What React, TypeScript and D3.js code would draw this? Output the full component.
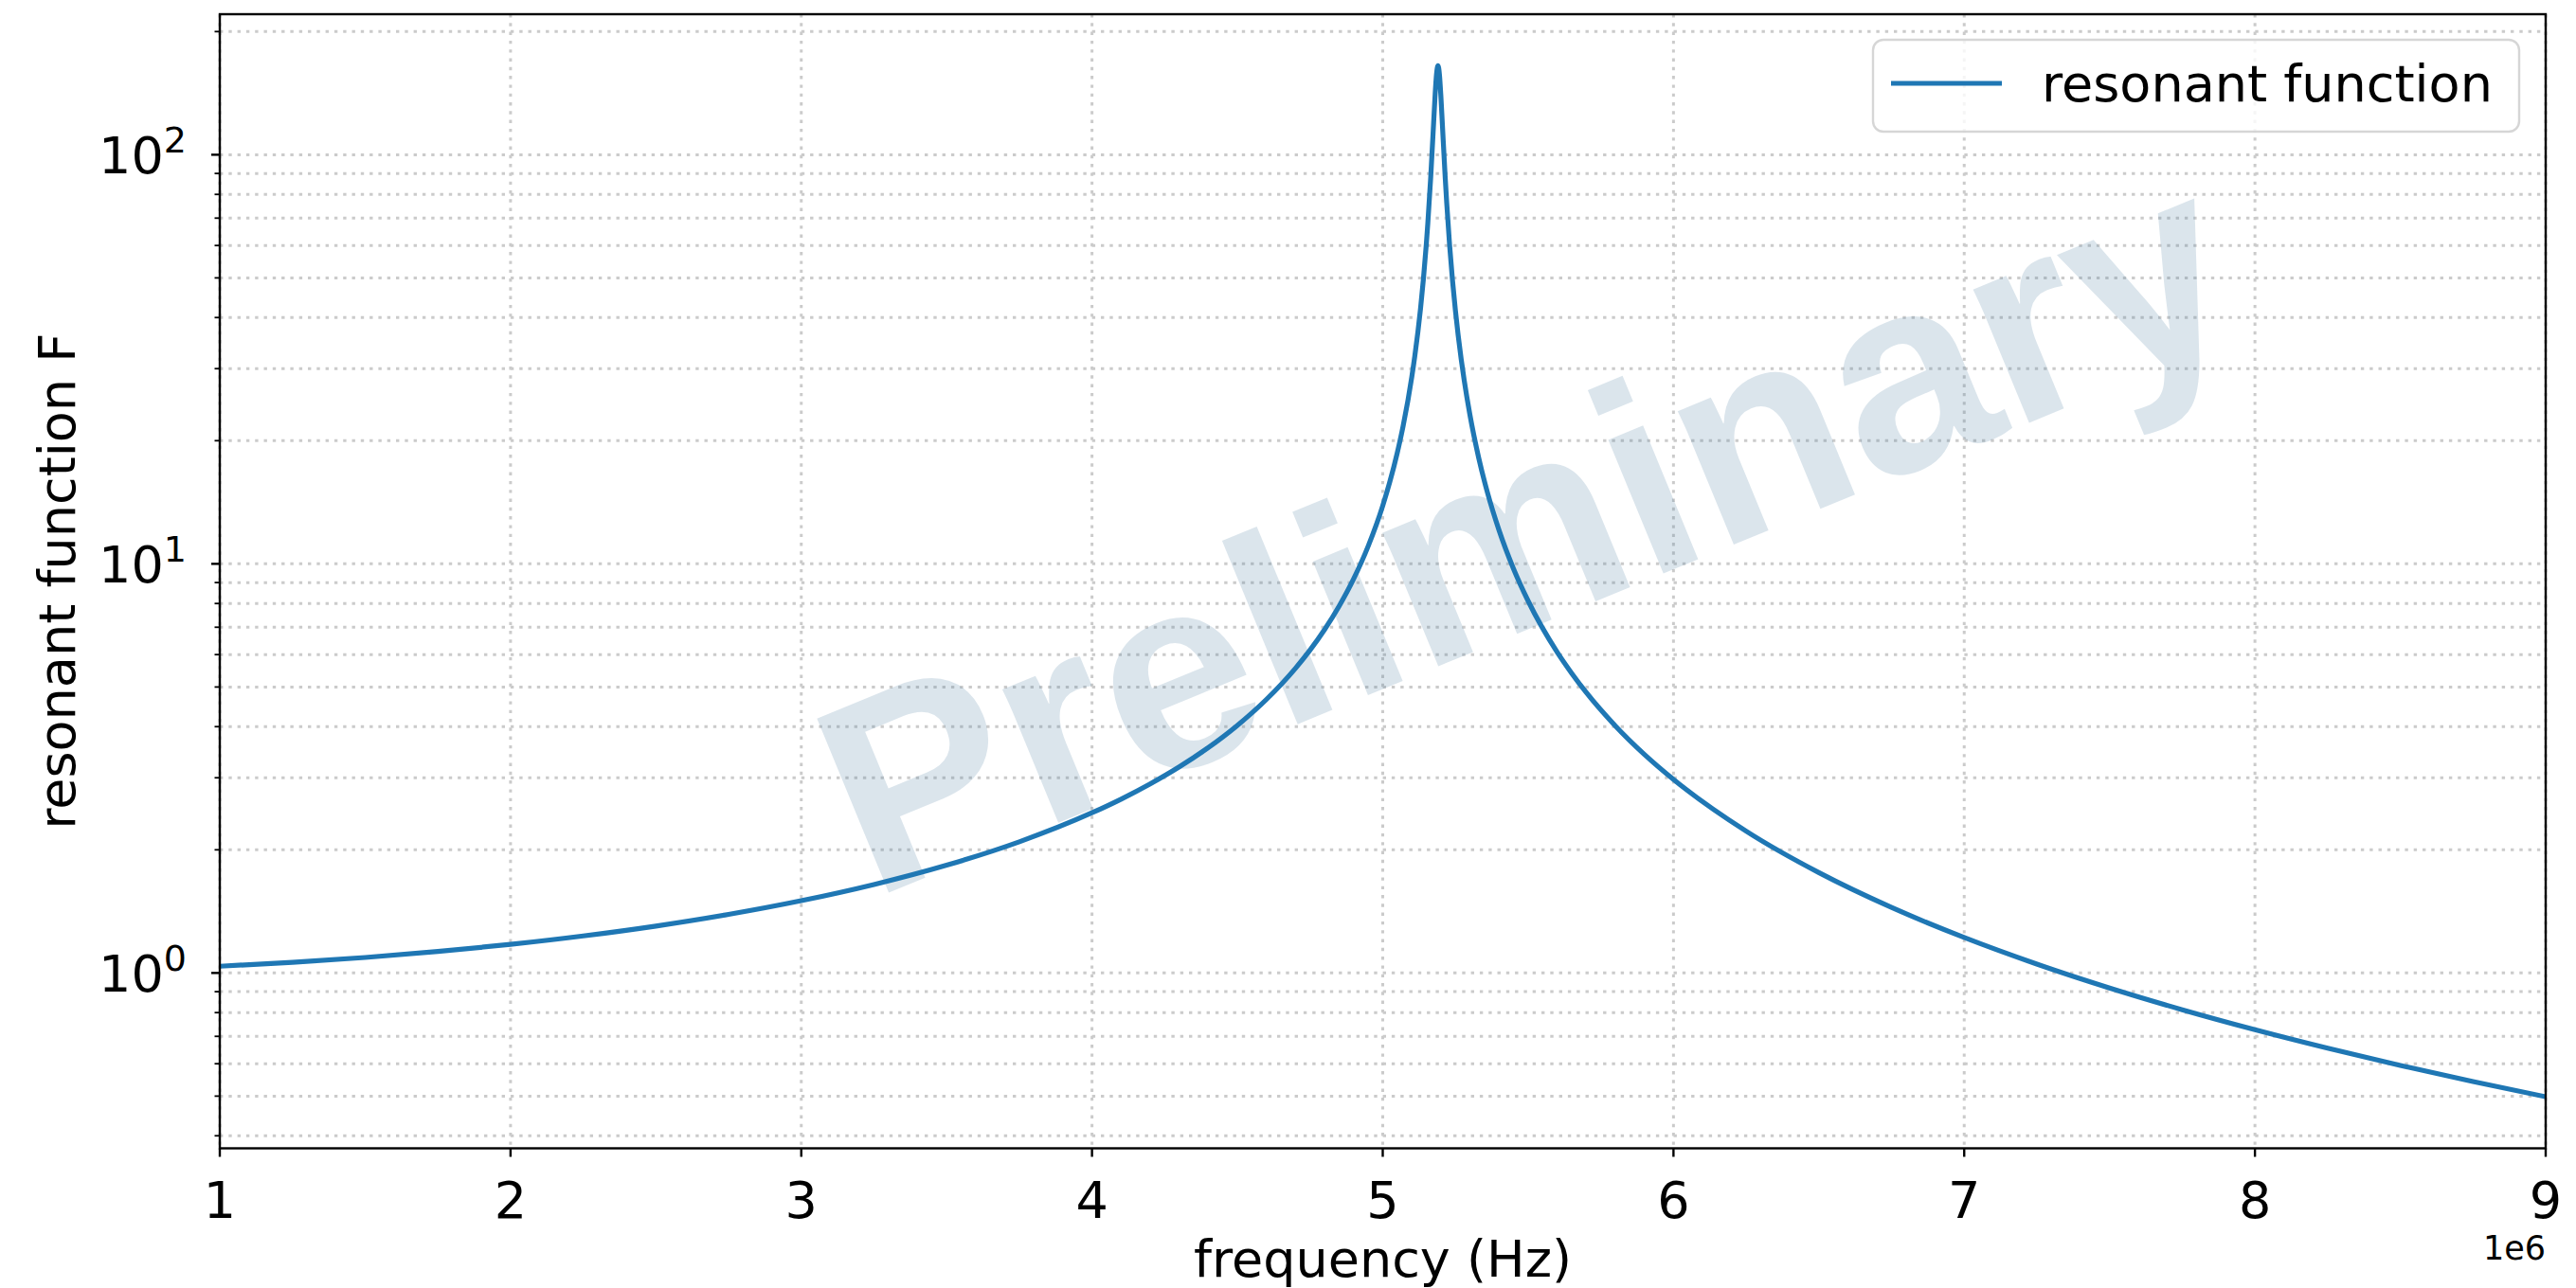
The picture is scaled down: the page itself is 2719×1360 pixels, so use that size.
import React from "react";
import * as d3 from "d3";

// Frequency samples (Hz) and the resonant function F at each one
const freqHz = [
  1.0e6, 1.25e6, 1.5e6, 1.75e6, 2.0e6, 2.25e6, 2.5e6, 2.75e6, 3.0e6, 3.25e6,
  3.5e6, 3.75e6, 4.0e6, 4.1e6, 4.2e6, 4.3e6, 4.4e6, 4.5e6, 4.6e6, 4.7e6,
  4.75e6, 4.8e6, 4.85e6, 4.9e6, 4.95e6, 5.0e6, 5.05e6, 5.07e6, 5.1e6, 5.11e6,
  5.13e6, 5.14e6, 5.15e6, 5.155e6, 5.165e6, 5.175e6, 5.18e6, 5.185e6, 5.19e6,
  5.195e6, 5.2e6, 5.205e6, 5.215e6, 5.22e6, 5.23e6, 5.24e6, 5.25e6, 5.27e6,
  5.28e6, 5.3e6, 5.33e6, 5.36e6, 5.4e6, 5.45e6, 5.5e6, 5.6e6, 5.65e6, 5.7e6,
  5.8e6, 5.9e6, 6.0e6, 6.25e6, 6.5e6, 6.75e6, 7.0e6, 7.25e6, 7.5e6, 7.75e6,
  8.0e6, 8.25e6, 8.5e6, 8.75e6, 9.0e6,
];
const response = [
  1.0386, 1.0616, 1.0911, 1.1283, 1.1744, 1.2315, 1.3021, 1.3904, 1.5018, 1.6451,
  1.8341, 2.0923, 2.463, 2.660, 2.898, 3.189, 3.555, 4.029, 4.663, 5.558,
  6.155, 6.909, 7.883, 9.192, 11.05, 13.87, 18.68, 21.70, 28.66, 32.09,
  42.10, 49.77, 60.62, 67.89, 88.07, 119.6, 139.5, 157.4, 165.0,
  157.1, 139.0, 119.1, 87.59, 76.35, 60.11, 49.25, 41.58, 31.58,
  28.15, 23.10, 18.17, 14.95, 12.08, 9.718, 8.117, 6.084, 5.402, 4.848,
  4.018, 3.421, 2.972, 2.221, 1.759, 1.446, 1.2208, 1.0511, 0.9189, 0.8131,
  0.7268, 0.6550, 0.5944, 0.5428, 0.4982,
];

const xTickValues = [1e6, 2e6, 3e6, 4e6, 5e6, 6e6, 7e6, 8e6, 9e6];
const seriesName = "resonant function";
const xLabel = "frequency (Hz)";
const yLabel = "resonant function F";
const offsetLabel = "1e6";
const watermark = "Preliminary";

const W = 2719;
const H = 1360;
const M = { left: 232, right: 2687, top: 15, bottom: 1212.5 };
const FONT = "'DejaVu Sans', sans-serif";
const LINE_COLOR = "#1f77b4";
const LINE_WIDTH = 5.2;
const GRID = { stroke: "#cbcbcb", strokeWidth: 3, strokeDasharray: "3.4 5.9" };

export default function App() {
  const x = d3.scaleLinear().domain([1e6, 9e6]).range([M.left, M.right]);

  // log axis with 5% padding (in decades) around the data range
  const lo = Math.log10(d3.min(response) as number);
  const hi = Math.log10(d3.max(response) as number);
  const pad = 0.05 * (hi - lo);
  const y = d3
    .scaleLog()
    .domain([Math.pow(10, lo - pad), Math.pow(10, hi + pad)])
    .range([M.bottom, M.top]);

  const yTicks = y.ticks();
  const isMajor = (v: number) => Math.abs(Math.log10(v) - Math.round(Math.log10(v))) < 1e-9;

  const pts = freqHz.map((f, i) => [f, response[i]] as [number, number]);
  const line = d3
    .line<[number, number]>()
    .x((d) => x(d[0]))
    .y((d) => y(d[1]))
    .curve(d3.curveMonotoneX);

  const wmX = 1648;
  const wmY = 650;

  return (
    <svg
      width={W}
      height={H}
      style={{ position: "absolute", left: 0, top: 0, background: "#fff" }}
      fontFamily={FONT}
    >
      <rect x={0} y={0} width={W} height={H} fill="#fff" />
      <defs>
        <clipPath id="plotArea">
          <rect x={M.left} y={M.top} width={M.right - M.left} height={M.bottom - M.top} />
        </clipPath>
      </defs>

      {/* grid */}
      <g>
        {yTicks.map((v) => (
          <line key={"gy" + v} x1={M.left} x2={M.right} y1={y(v)} y2={y(v)} {...GRID} />
        ))}
        {xTickValues.map((v) => (
          <line key={"gx" + v} x1={x(v)} x2={x(v)} y1={M.top} y2={M.bottom} {...GRID} />
        ))}
      </g>

      {/* watermark */}
      <text
        x={wmX}
        y={wmY}
        transform={`rotate(-22.4 ${wmX} ${wmY})`}
        textAnchor="middle"
        fontFamily="'Liberation Sans', Arial, sans-serif"
        fontWeight="bold"
        fontSize={289}
        fill="rgb(75,125,160)"
        fillOpacity={0.2}
      >
        {watermark}
      </text>

      {/* series */}
      <path
        d={line(pts) || ""}
        fill="none"
        stroke={LINE_COLOR}
        strokeWidth={LINE_WIDTH}
        strokeLinejoin="round"
        strokeLinecap="round"
        clipPath="url(#plotArea)"
      />

      {/* frame */}
      <rect
        x={M.left}
        y={M.top}
        width={M.right - M.left}
        height={M.bottom - M.top}
        fill="none"
        stroke="#000"
        strokeWidth={2.4}
      />

      {/* y ticks */}
      {yTicks.map((v) => (
        <line
          key={"ty" + v}
          x1={M.left}
          x2={M.left - (isMajor(v) ? 9 : 5.5)}
          y1={y(v)}
          y2={y(v)}
          stroke="#000"
          strokeWidth={isMajor(v) ? 2.4 : 1.8}
        />
      ))}
      {yTicks.filter(isMajor).map((v) => (
        <text key={"ly" + v} x={197} y={y(v) + 20} textAnchor="end" fontSize={54} fill="#000">
          10
          <tspan fontSize={38} dy={-22}>
            {String(Math.round(Math.log10(v)))}
          </tspan>
        </text>
      ))}

      {/* x ticks */}
      {xTickValues.map((v) => (
        <g key={"tx" + v}>
          <line x1={x(v)} x2={x(v)} y1={M.bottom} y2={M.bottom + 9} stroke="#000" strokeWidth={2.4} />
          <text x={x(v)} y={1286} textAnchor="middle" fontSize={54} fill="#000">
            {d3.format("d")(v / 1e6)}
          </text>
        </g>
      ))}
      <text x={M.right} y={1330} textAnchor="end" fontSize={35} fill="#000">
        {offsetLabel}
      </text>

      {/* axis labels */}
      <text x={(M.left + M.right) / 2} y={1348} textAnchor="middle" fontSize={54} fill="#000">
        {xLabel}
      </text>
      <text
        x={79}
        y={(M.top + M.bottom) / 2}
        transform={`rotate(-90 79 ${(M.top + M.bottom) / 2})`}
        textAnchor="middle"
        fontSize={54}
        fill="#000"
      >
        {yLabel}
      </text>

      {/* legend */}
      <g>
        <rect
          x={1977}
          y={42}
          width={682}
          height={97}
          rx={11}
          fill="#fff"
          fillOpacity={0.8}
          stroke="#cccccc"
          strokeOpacity={0.8}
          strokeWidth={2.4}
        />
        <line x1={1996} x2={2113} y1={88} y2={88} stroke={LINE_COLOR} strokeWidth={LINE_WIDTH} />
        <text x={2155} y={107} fontSize={54} fill="#000">
          {seriesName}
        </text>
      </g>
    </svg>
  );
}
